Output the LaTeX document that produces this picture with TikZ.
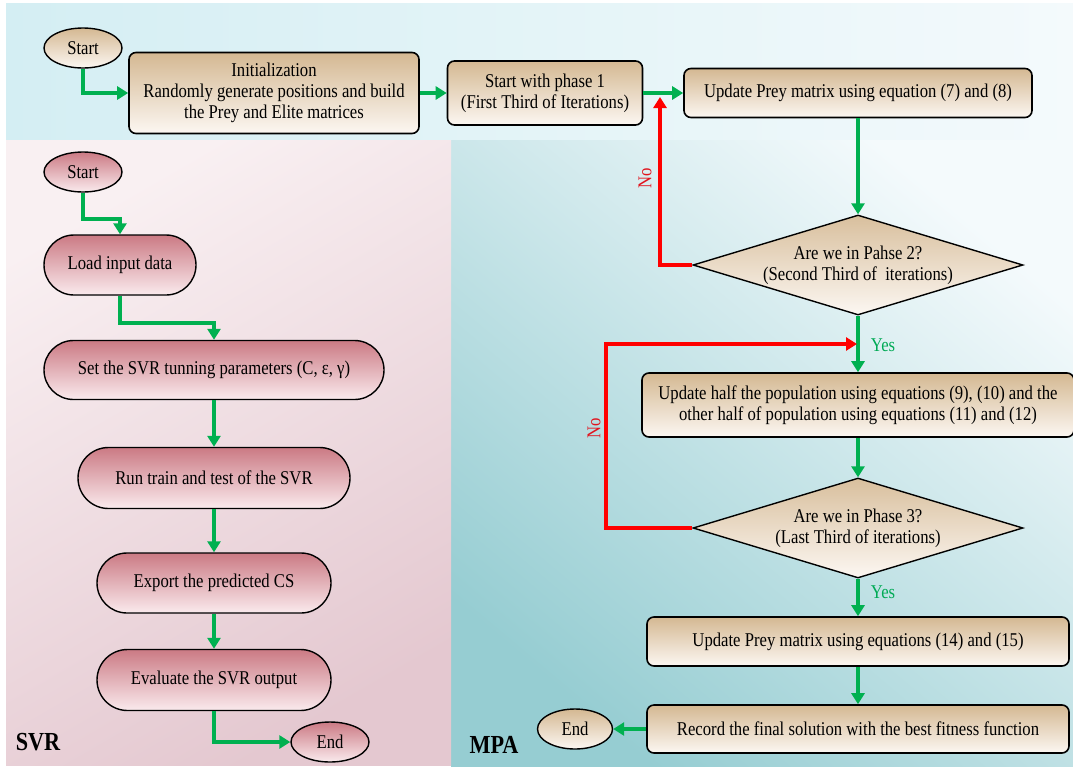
\documentclass[tikz,border=0pt]{standalone}
\usepackage{fontspec}
\setmainfont{Liberation Serif}[FakeStretch=0.855]
\usetikzlibrary{shapes.geometric,shapes.misc,arrows.meta}
\definecolor{tanA}{RGB}{212,184,146}
\definecolor{tanB}{RGB}{252,247,242}
\definecolor{pinkA}{RGB}{203,122,132}
\definecolor{pinkB}{RGB}{250,234,237}
\definecolor{garr}{RGB}{0,176,80}
\definecolor{rarr}{RGB}{255,0,0}
\definecolor{yesc}{RGB}{0,170,85}
\definecolor{noc}{RGB}{225,20,30}
\definecolor{bandL}{RGB}{212,238,243}
\definecolor{bandR}{RGB}{244,250,252}
\definecolor{pinkbgA}{RGB}{249,240,242}
\definecolor{pinkbgB}{RGB}{228,200,208}
\definecolor{tealA}{RGB}{244,250,252}
\definecolor{tealB}{RGB}{150,205,210}
\newcommand\dfont{\fontsize{19.5}{21}\selectfont}
\newcommand\bigfont{\fontsize{26}{28}\selectfont\bfseries}
\begin{document}
\begin{tikzpicture}[x=1pt,y=-1pt,
  tanbox/.style={draw=black, line width=1.6pt, rounded corners=7pt, top color=tanA, bottom color=tanB,
    align=center, inner sep=0pt, font=\dfont},
  tanoval/.style={draw=black, line width=1.4pt, ellipse, top color=tanA, bottom color=tanB,
    inner sep=0pt, minimum width=78pt, minimum height=40pt, font=\dfont},
  pinkoval/.style={draw=black, line width=1.4pt, ellipse, top color=pinkA, bottom color=pinkB,
    inner sep=0pt, minimum width=78pt, minimum height=40pt, font=\dfont},
  pinkpill/.style={draw=black, line width=1.4pt, rounded rectangle, top color=pinkA, bottom color=pinkB,
    inner sep=0pt, font=\dfont},
  decision/.style={draw=black, line width=1.4pt, diamond, top color=tanA!90!white, bottom color=tanB,
    inner sep=0pt, minimum width=330pt, minimum height=100pt},
  garrow/.style={draw=garr, line width=4pt, -{Triangle[length=11pt,width=13pt]}},
  rarrow/.style={draw=rarr, line width=4pt, -{Triangle[length=11pt,width=13pt]}},
  yeslab/.style={text=yesc, font=\dfont},
  nolab/.style={text=noc, font=\dfont, rotate=90}
]
\useasboundingbox (0,0) rectangle (1073,766);
% backgrounds
\shade[left color=bandL, right color=bandR] (6,3) rectangle (1073,140);
\shade[top color=tealA, bottom color=tealB, shading angle=-40] (451,140) rectangle (1073,766);
\shade[top color=pinkbgA, bottom color=pinkbgB, shading angle=30] (6,140) rectangle (451,765);

% ---------- MPA ----------
\node[tanoval] (s1) at (83,48) {Start};
\node[tanbox, minimum width=290pt, minimum height=81pt] (init) at (274,93)
  {Initialization\\Randomly generate positions and build\\the Prey and Elite matrices};
\node[tanbox, minimum width=195pt, minimum height=64pt] (ph1) at (545,93)
  {Start with phase 1\\(First Third of Iterations)};
\node[tanbox, minimum width=348pt, minimum height=49pt] (up78) at (858,93)
  {Update Prey matrix using equation (7) and (8)};
\node[decision, label={[align=center, font=\dfont]center:{Are we in Pahse 2?\\(Second Third of\ \ iterations)}}] (d1) at (858,265) {};
\node[tanbox, minimum width=432pt, minimum height=64pt] (uph) at (858,405)
  {Update half the population using equations (9), (10) and the\\other half of population using equations (11) and (12)};
\node[decision, label={[align=center, font=\dfont]center:{Are we in Phase 3?\\(Last Third of iterations)}}] (d2) at (858,528) {};
\node[tanbox, minimum width=422pt, minimum height=49pt] (up1415) at (858,641.5)
  {Update Prey matrix using equations (14) and (15)};
\node[tanbox, minimum width=422pt, minimum height=48pt] (rec) at (858,729)
  {Record the final solution with the best fitness function};
\node[tanoval, minimum width=75pt] (e2) at (575,729) {End};

\coordinate (j1) at (660,97);
\coordinate (c2) at (606,344);
\coordinate (j2) at (857,344);

\draw[garrow] (s1.south) |- (init.west);
\draw[garrow] (init.east) -- (ph1.west);
\draw[garrow] (ph1.east) -- (up78.west);
\draw[garrow] (up78.south) -- (d1.north);
\draw[garrow] (d1.south) -- (uph.north);
\draw[garrow] (uph.south) -- (d2.north);
\draw[garrow] (d2.south) -- (up1415.north);
\draw[garrow] (up1415.south) -- (rec.north);
\draw[garrow] (rec.west) -- (e2.east);
\draw[rarrow] (d1.west) -| (j1);
\draw[rarrow] (d2.west) -| (c2) -- (j2);

\node[nolab] (no1) at (645,178) {No};
\node[nolab] (no2) at (594,428) {No};
\node[yeslab] (yes1) at (883,345) {Yes};
\node[yeslab] (yes2) at (883,592) {Yes};
\node[font=\bigfont] (mpa) at (494,745) {MPA};

% ---------- SVR ----------
\node[pinkoval] (s2) at (83,172) {Start};
\node[pinkpill, minimum width=152pt, minimum height=60pt] (load) at (120,265) {Load input data};
\node[pinkpill, minimum width=340pt, minimum height=59pt] (set) at (214,370)
  {Set the SVR tunning parameters (C, ε, γ)};
\node[pinkpill, minimum width=272pt, minimum height=61pt] (run) at (214,478) {Run train and test of the SVR};
\node[pinkpill, minimum width=234pt, minimum height=60pt] (exp) at (214,583) {Export the predicted CS};
\node[pinkpill, minimum width=234pt, minimum height=61pt] (eva) at (214,680) {Evaluate the SVR output};
\node[pinkoval] (e1) at (330,742) {End};

\draw[garrow] (s2.south) -- ++(0,26) -| (load.north);
\draw[garrow] (load.south) -- ++(0,27) -| (set.north);
\draw[garrow] (set.south) -- (run.north);
\draw[garrow] (run.south) -- (exp.north);
\draw[garrow] (exp.south) -- (eva.north);
\draw[garrow] (eva.south) |- (e1.west);

\node[font=\bigfont] (svr) at (38,742) {SVR};
\end{tikzpicture}
\end{document}
